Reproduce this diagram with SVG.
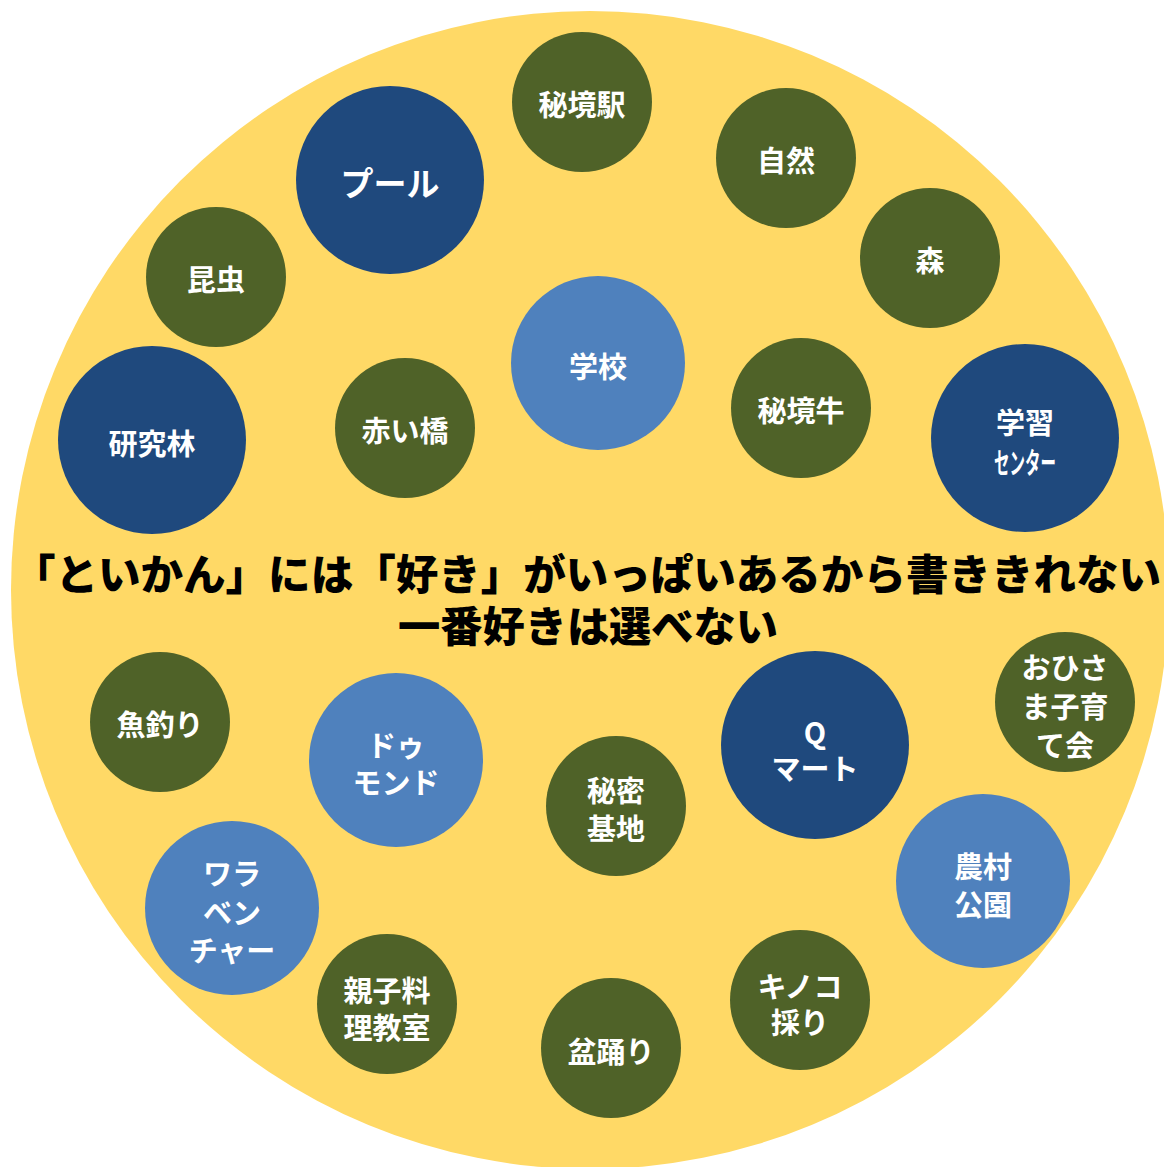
<svg xmlns="http://www.w3.org/2000/svg" width="1164" height="1167" viewBox="0 0 1164 1167">
<style>
.bg{fill:#FFD966}
.g{fill:#4F6228}
.d{fill:#1F497D}
.l{fill:#4F81BD}
.t{fill:#FFFFFF;font-family:"Noto Sans CJK JP","Noto Sans",sans-serif;font-weight:700;font-size:29px;text-anchor:middle;dominant-baseline:central}
.m{fill:#000000;font-family:"Noto Sans CJK JP","Noto Sans",sans-serif;font-weight:900;font-size:42px;text-anchor:middle;dominant-baseline:central}
</style>
<rect width="1164" height="1167" fill="#FFFFFF"/>
<circle id="background" class="bg" cx="590" cy="590" r="579"/>

<g id="n-hikyoeki"><circle class="g" cx="582" cy="102" r="70"/><text class="t" x="582" y="103">秘境駅</text></g>
<g id="n-pool"><circle class="d" cx="390" cy="180" r="94"/><text class="t" x="390" y="182" style="font-size:33px">プール</text></g>
<g id="n-shizen"><circle class="g" cx="786" cy="158" r="70"/><text class="t" x="786" y="159">自然</text></g>
<g id="n-mori"><circle class="g" cx="930" cy="258" r="70"/><text class="t" x="930" y="259">森</text></g>
<g id="n-konchu"><circle class="g" cx="216" cy="277" r="70"/><text class="t" x="216" y="278">昆虫</text></g>
<g id="n-gakko"><circle class="l" cx="598" cy="363" r="87"/><text class="t" x="598" y="365">学校</text></g>
<g id="n-hikyogyu"><circle class="g" cx="801" cy="408" r="70"/><text class="t" x="801" y="409">秘境牛</text></g>
<g id="n-center"><circle class="d" cx="1025" cy="438" r="94"/><text class="t" x="1025" y="421">学習</text><text class="t" x="1025" y="461" textLength="62" lengthAdjust="spacingAndGlyphs">センター</text></g>
<g id="n-kenkyurin"><circle class="d" cx="152" cy="440" r="94"/><text class="t" x="152" y="442">研究林</text></g>
<g id="n-akaihashi"><circle class="g" cx="405" cy="428" r="70"/><text class="t" x="405" y="429">赤い橋</text></g>

<g id="title">
<text class="m" x="587" y="571" textLength="1148" lengthAdjust="spacingAndGlyphs">「といかん」には「好き」がいっぱいあるから書ききれない</text>
<text class="m" x="588" y="623" textLength="380" lengthAdjust="spacingAndGlyphs">一番好きは選べない</text>
</g>

<g id="n-sakanatsuri"><circle class="g" cx="160" cy="722" r="70"/><text class="t" x="160" y="723">魚釣り</text></g>
<g id="n-dumond"><circle class="l" cx="396" cy="760" r="87"/><text class="t" x="396" y="744">ドゥ</text><text class="t" x="396" y="781">モンド</text></g>
<g id="n-himitsukichi"><circle class="g" cx="616" cy="806" r="70"/><text class="t" x="616" y="789">秘密</text><text class="t" x="616" y="827">基地</text></g>
<g id="n-qmart"><circle class="d" cx="815" cy="745" r="94"/><text class="t" x="815" y="731">Q</text><text class="t" x="815" y="767">マート</text></g>
<g id="n-ohisama"><circle class="g" cx="1065" cy="702" r="70"/><text class="t" x="1065" y="666">おひさ</text><text class="t" x="1065" y="705">ま子育</text><text class="t" x="1065" y="744">て会</text></g>
<g id="n-nosonkoen"><circle class="l" cx="983" cy="881" r="87"/><text class="t" x="983" y="865">農村</text><text class="t" x="983" y="903">公園</text></g>
<g id="n-warabencha"><circle class="l" cx="232" cy="908" r="87"/><text class="t" x="232" y="872">ワラ</text><text class="t" x="232" y="911">ベン</text><text class="t" x="232" y="949">チャー</text></g>
<g id="n-oyako"><circle class="g" cx="387" cy="1004" r="70"/><text class="t" x="387" y="989">親子料</text><text class="t" x="387" y="1026">理教室</text></g>
<g id="n-bonodori"><circle class="g" cx="611" cy="1048" r="70"/><text class="t" x="611" y="1050">盆踊り</text></g>
<g id="n-kinoko"><circle class="g" cx="800" cy="1000" r="70"/><text class="t" x="800" y="985">キノコ</text><text class="t" x="800" y="1021">採り</text></g>
</svg>
